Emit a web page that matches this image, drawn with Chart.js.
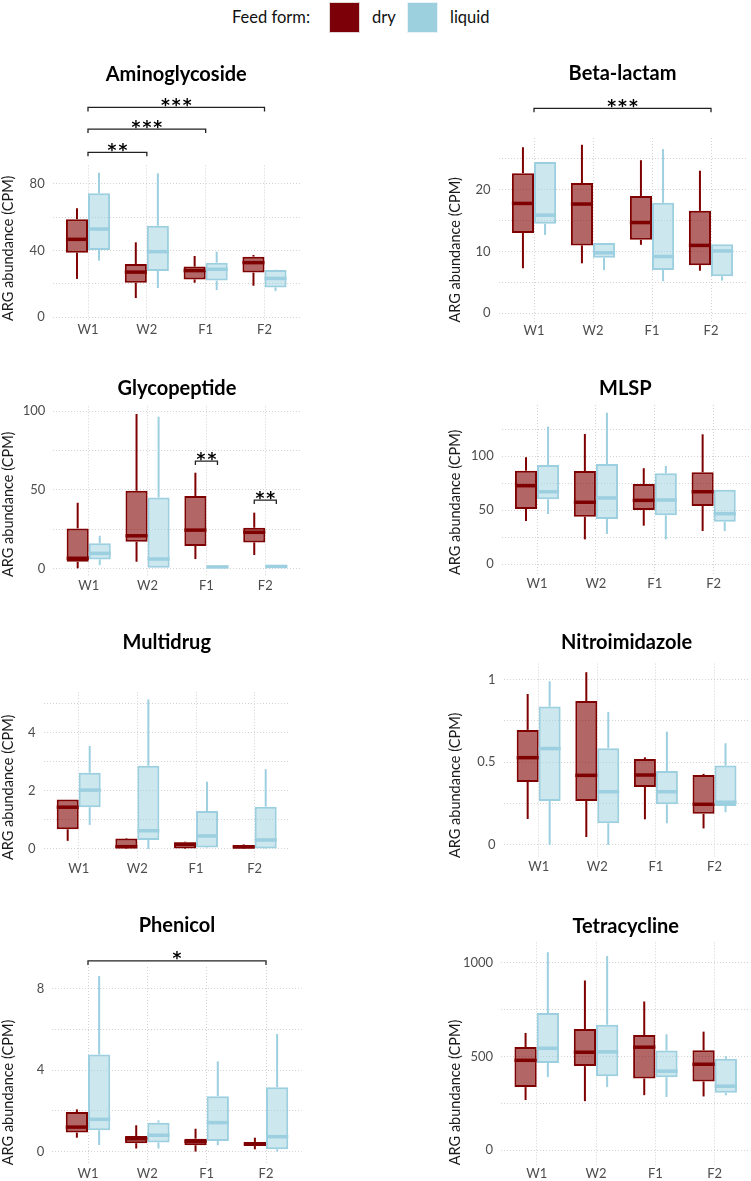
<!DOCTYPE html>
<html>
<head>
<meta charset="utf-8">
<script src="https://cdn.jsdelivr.net/npm/chart.js@4.4.1/dist/chart.umd.min.js"></script>
<style>
  body { margin: 0; background: #fff; }
  #page { position: relative; width: 751px; height: 1181px; overflow: hidden; font-family: Lato, sans-serif; color: #111; }
  canvas { position: absolute; }
  .lg-text { position: absolute; top: 6px; font-size: 16.5px; line-height: 22px; }
  .lg-box { position: absolute; top: 2px; width: 31px; height: 31px; box-sizing: border-box; border: 1px solid #e2d4d4; }
</style>
</head>
<body>
<div id="page">
  <div class="lg-text" style="left:232px">Feed form:</div>
  <div class="lg-box" style="left:329px;background:#7b0008"></div>
  <div class="lg-text" style="left:372px">dry</div>
  <div class="lg-box" style="left:407px;background:#9dd0df;border-color:#e6f2f6"></div>
  <div class="lg-text" style="left:450px">liquid</div>
</div>
<script>
const categories = ['W1', 'W2', 'F1', 'F2'];
const feedForms = ['dry', 'liquid'];

// each entry: [lower whisker, Q1, median, Q3, upper whisker] for W1, W2, F1, F2
const aminoDry = [[22.9, 38.7, 46.7, 58.8, 65.4], [11.4, 20.6, 27, 31.9, 44.9], [20.6, 22.6, 27.9, 30.3, 36.7], [18.8, 26.7, 32.7, 36.3, 37.3]];
const aminoLiquid = [[33.9, 40.3, 52.9, 74.4, 86.8], [17.4, 27.7, 39.3, 54.9, 86.4], [16.2, 21.9, 28.7, 32.7, 39.3], [15.6, 17.8, 23.2, 28.3, 28.5]];
const betaDry = [[7.3, 13.0, 17.8, 22.7, 26.9], [8.1, 11.0, 17.7, 21.1, 27.3], [11.1, 11.9, 14.7, 19.0, 24.8], [6.9, 7.8, 11.0, 16.6, 23.1]];
const betaLiquid = [[12.7, 14.5, 15.9, 24.5, 24.5], [7.0, 9.0, 9.8, 11.4, 11.4], [5.2, 7.0, 9.2, 17.9, 26.6], [5.3, 6.0, 10.1, 11.2, 11.2]];
const glycoDry = [[0, 4.2, 6.4, 25.4, 41.7], [4.2, 16.9, 20.7, 49.3, 98.1], [5.9, 14.2, 24.3, 46, 60.8], [8.5, 16.5, 22.9, 25.8, 35.4]];
const glycoLiquid = [[2.1, 5.7, 9.5, 15.9, 20.7], [0, 0, 5.9, 45.1, 96.4], [0.3, 0.4, 0.9, 1.5, 1.6], [0.5, 0.6, 1.2, 1.8, 2.0]];
const mlspDry = [[39.9, 51.1, 72.7, 86.6, 99.1], [22.9, 43.9, 57.3, 86.3, 120.7], [35.6, 50.1, 59.1, 74.3, 88.9], [30.6, 53.9, 67.1, 85.1, 120.4]];
const mlspLiquid = [[46.4, 60, 67.1, 91.9, 127.5], [27.9, 41.8, 61.3, 92.8, 140.5], [22.9, 45.2, 59.4, 84.2, 91], [30.6, 39.3, 46.7, 69, 69]];
const multiDry = [[0.28, 0.68, 1.44, 1.71, 1.71], [0, 0.02, 0.08, 0.36, 0.38], [0, 0.02, 0.16, 0.23, 0.25], [0, 0.02, 0.07, 0.14, 0.16]];
const multiLiquid = [[0.83, 1.44, 2.03, 2.63, 3.55], [0, 0.31, 0.63, 2.87, 5.16], [0.03, 0.05, 0.45, 1.31, 2.32], [0, 0.02, 0.31, 1.46, 2.75]];
const nitroDry = [[0.157, 0.381, 0.528, 0.696, 0.913], [0.048, 0.266, 0.421, 0.871, 1.045], [0.155, 0.351, 0.423, 0.52, 0.53], [0.1, 0.188, 0.246, 0.423, 0.43]];
const nitroLiquid = [[0, 0.266, 0.583, 0.837, 0.99], [0, 0.131, 0.322, 0.585, 0.805], [0.131, 0.246, 0.322, 0.448, 0.685], [0.198, 0.236, 0.258, 0.48, 0.615]];
const phenDry = [[0.68, 0.93, 1.2, 1.94, 2.07], [0.15, 0.41, 0.63, 0.76, 1.29], [0, 0.31, 0.5, 0.63, 1.12], [0.11, 0.27, 0.37, 0.47, 0.68]];
const phenLiquid = [[0.32, 1.04, 1.58, 4.76, 8.62], [0.15, 0.44, 0.8, 1.42, 1.53], [0.31, 0.52, 1.42, 2.72, 4.43], [0, 0.11, 0.73, 3.16, 5.77]];
const tetraDry = [[268, 337, 480, 551, 626], [262, 449, 523, 647, 906], [294, 383, 550, 615, 794], [287, 367, 459, 534, 633]];
const tetraLiquid = [[390, 466, 544, 732, 1057], [337, 395, 525, 670, 1037], [284, 390, 422, 532, 619], [293, 307, 342, 488, 502]];

// y grid lines and which of them carry a label
const aminoTicks = [0, 20, 40, 60, 80], aminoLabels = [0, 40, 80];
const betaTicks = [0, 5, 10, 15, 20, 25], betaLabels = [0, 10, 20];
const glycoTicks = [0, 25, 50, 75, 100], glycoLabels = [0, 50, 100];
const mlspTicks = [0, 25, 50, 75, 100, 125], mlspLabels = [0, 50, 100];
const multiTicks = [0, 1, 2, 3, 4, 5], multiLabels = [0, 2, 4];
const nitroTicks = [0, 0.25, 0.5, 0.75, 1], nitroLabels = [0, 0.5, 1];
const phenTicks = [0, 2, 4, 6, 8], phenLabels = [0, 4, 8];
const tetraTicks = [0, 250, 500, 750, 1000], tetraLabels = [0, 500, 1000];

// significance brackets: [from, to, height, stars]; same group = dry vs liquid
const aminoSig = [['W1', 'W2', 99, '**'], ['W1', 'F1', 113, '***'], ['W1', 'F2', 126, '***']];
const betaSig = [['W1', 'F2', 33.2, '***']];
const glycoSig = [['F1', 'F1', 68.2, '**'], ['F2', 'F2', 43.4, '**']];
const phenSig = [['W1', 'F2', 9.36, '*']];

const colors = {
  dry: { line: '#7f0000', fill: 'rgba(127,0,0,0.6)' },
  liquid: { line: '#9ccfdf', fill: 'rgba(156,207,223,0.5)' }
};

// layout: plot box [left, top, right, bottom] in page pixels
const cols = [{ left: 0, width: 375 }, { left: 447, width: 304 }];
const rows = [{ top: 40, bottom: 340 }, { top: 340, bottom: 610 }, { top: 610, bottom: 890 }, { top: 890, bottom: 1181 }];

const panels = [
  { title: 'Aminoglycoside', dry: aminoDry, liquid: aminoLiquid, ticks: aminoTicks, labels: aminoLabels, sig: aminoSig,
    col: 0, row: 0, box: [52.7, 165.5, 299.8, 321], yMin: -2.4, yMax: 91.1, titleY: 75 },
  { title: 'Beta-lactam', dry: betaDry, liquid: betaLiquid, ticks: betaTicks, labels: betaLabels, sig: betaSig,
    col: 1, row: 0, box: [498.6, 138, 746.4, 322.5], yMin: -1.49, yMax: 28.4, titleY: 74 },
  { title: 'Glycopeptide', dry: glycoDry, liquid: glycoLiquid, ticks: glycoTicks, labels: glycoLabels, sig: glycoSig,
    col: 0, row: 1, box: [53.4, 406.3, 300.6, 577], yMin: -5.5, yMax: 103, titleY: 389 },
  { title: 'MLSP', dry: mlspDry, liquid: mlspLiquid, ticks: mlspTicks, labels: mlspLabels, sig: [],
    col: 1, row: 1, box: [501.7, 405, 749, 575], yMin: -10.2, yMax: 147.6, titleY: 389 },
  { title: 'Multidrug', dry: multiDry, liquid: multiLiquid, ticks: multiTicks, labels: multiLabels, sig: [],
    col: 0, row: 2, box: [43.5, 691.8, 289.9, 860], yMin: -0.38, yMax: 5.42, titleY: 643 },
  { title: 'Nitroimidazole', dry: nitroDry, liquid: nitroLiquid, ticks: nitroTicks, labels: nitroLabels, sig: [],
    col: 1, row: 2, box: [503.5, 663.6, 749.7, 858], yMin: -0.079, yMax: 1.097, titleY: 643 },
  { title: 'Phenicol', dry: phenDry, liquid: phenLiquid, ticks: phenTicks, labels: phenLabels, sig: phenSig,
    col: 0, row: 3, box: [52.4, 967, 301.6, 1166], yMin: -0.67, yMax: 9.06, titleY: 926 },
  { title: 'Tetracycline', dry: tetraDry, liquid: tetraLiquid, ticks: tetraTicks, labels: tetraLabels, sig: [],
    col: 1, row: 3, box: [501.1, 942.3, 750.3, 1166], yMin: -80, yMax: 1110, titleY: 927 }
];

function line(ctx, x1, y1, x2, y2) {
  ctx.beginPath();
  ctx.moveTo(x1, y1);
  ctx.lineTo(x2, y2);
  ctx.stroke();
}

// whiskers, medians, titles and brackets on top of the floating bars
const boxExtras = {
  id: 'boxExtras',
  beforeDatasetsDraw(chart, args, opts) {
    const p = panels[opts.panel], ctx = chart.ctx, y = chart.scales.y;
    feedForms.forEach((f, di) => {
      const meta = chart.getDatasetMeta(di);
      ctx.save();
      ctx.strokeStyle = colors[f].line;
      ctx.lineWidth = 2;
      meta.data.forEach((bar, i) => {
        const s = p[f][i];
        line(ctx, bar.x, y.getPixelForValue(s[3]), bar.x, y.getPixelForValue(s[4]));
        line(ctx, bar.x, y.getPixelForValue(s[0]), bar.x, y.getPixelForValue(s[1]));
      });
      ctx.restore();
    });
  },
  afterDatasetsDraw(chart, args, opts) {
    const p = panels[opts.panel], ctx = chart.ctx, y = chart.scales.y;
    feedForms.forEach((f, di) => {
      const meta = chart.getDatasetMeta(di);
      ctx.save();
      ctx.strokeStyle = colors[f].line;
      ctx.lineWidth = 3.5;
      meta.data.forEach((bar, i) => {
        const ym = y.getPixelForValue(p[f][i][2]);
        line(ctx, bar.x - bar.width / 2, ym, bar.x + bar.width / 2, ym);
      });
      ctx.restore();
    });
  },
  afterDraw(chart, args, opts) {
    const p = panels[opts.panel], ctx = chart.ctx, ca = chart.chartArea;
    const x = chart.scales.x, y = chart.scales.y;
    ctx.save();
    ctx.fillStyle = '#000';
    ctx.font = 'bold 20px Lato';
    ctx.textAlign = 'center';
    ctx.textBaseline = 'middle';
    ctx.fillText(p.title, (ca.left + ca.right) / 2, p.titleY - rows[p.row].top);

    const dryMeta = chart.getDatasetMeta(0), liqMeta = chart.getDatasetMeta(1);
    ctx.strokeStyle = '#222';
    ctx.lineWidth = 1.3;
    ctx.font = 'bold 17px "DejaVu Sans"';
    ctx.letterSpacing = '2px';
    ctx.textBaseline = 'alphabetic';
    p.sig.forEach(([a, b, v, label]) => {
      const ia = categories.indexOf(a), ib = categories.indexOf(b);
      let x1, x2;
      if (ia === ib) {
        x1 = dryMeta.data[ia].x;
        x2 = liqMeta.data[ia].x;
      } else {
        x1 = x.getPixelForValue(ia + 1);
        x2 = x.getPixelForValue(ib + 1);
      }
      const yl = y.getPixelForValue(v);
      ctx.beginPath();
      ctx.moveTo(x1, yl + 4);
      ctx.lineTo(x1, yl);
      ctx.lineTo(x2, yl);
      ctx.lineTo(x2, yl + 4);
      ctx.stroke();
      ctx.fillText(label, (x1 + x2) / 2 + 1, yl + 3.5);
    });
    ctx.restore();
  }
};

const page = document.getElementById('page');
const gridColor = '#d2d2d2';
const tickFont = { family: 'Lato', size: 13 };

panels.forEach((p, idx) => {
  const col = cols[p.col], row = rows[p.row];
  const w = col.width, h = row.bottom - row.top;
  const canvas = document.createElement('canvas');
  canvas.width = w;
  canvas.height = h;
  canvas.style.left = col.left + 'px';
  canvas.style.top = row.top + 'px';
  page.appendChild(canvas);

  const datasets = feedForms.map(f => ({
    label: f,
    data: p[f].map((s, i) => ({ x: i + 1, y: [s[1], s[3]] })),
    backgroundColor: colors[f].fill,
    borderColor: colors[f].line,
    borderWidth: 2,
    borderSkipped: false,
    categoryPercentage: 0.75,
    barPercentage: 1
  }));

  new Chart(canvas, {
    type: 'bar',
    data: { datasets: datasets },
    options: {
      responsive: false,
      animation: false,
      devicePixelRatio: 1,
      layout: { padding: { left: 0, bottom: 0, top: p.box[1] - row.top, right: col.left + w - p.box[2] } },
      plugins: {
        legend: { display: false },
        tooltip: { enabled: false },
        boxExtras: { panel: idx }
      },
      scales: {
        x: {
          type: 'linear',
          offset: false,
          min: 0.4,
          max: 4.6,
          afterBuildTicks: s => { s.ticks = categories.map((c, i) => ({ value: i + 1 })); },
          afterFit: s => { s.height = row.bottom - p.box[3]; },
          ticks: { callback: v => categories[v - 1], font: tickFont, color: '#4d4d4d', padding: 1, autoSkip: false, maxRotation: 0 },
          grid: { color: gridColor, drawTicks: false, offset: false },
          border: { display: false, dash: [1, 2] }
        },
        y: {
          min: p.yMin,
          max: p.yMax,
          afterBuildTicks: s => { s.ticks = p.ticks.map(v => ({ value: v })); },
          afterFit: s => { s.width = p.box[0] - col.left; },
          ticks: { callback: v => p.labels.includes(v) ? String(v) : '', font: tickFont, color: '#4d4d4d', padding: 8, autoSkip: false },
          grid: { color: gridColor, drawTicks: false },
          border: { display: false, dash: [1, 2] },
          title: { display: true, text: 'ARG abundance (CPM)', align: 'start', padding: 0, color: '#1a1a1a', font: { family: 'Lato', size: 14.5 } }
        }
      }
    },
    plugins: [boxExtras]
  });
});
</script>
</body>
</html>
